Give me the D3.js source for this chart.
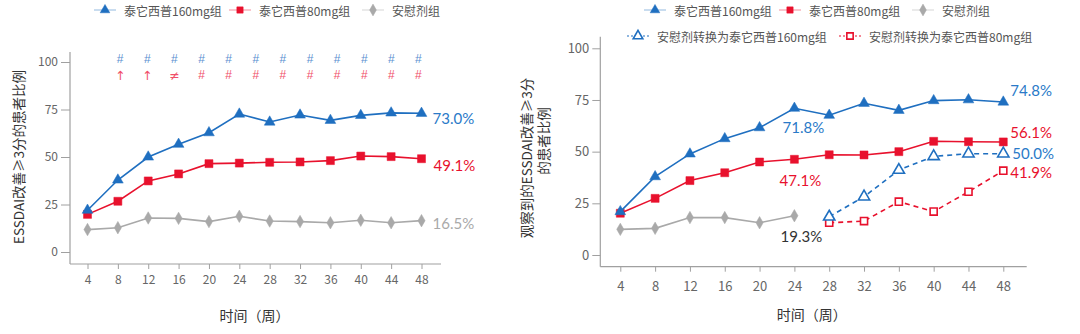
<!DOCTYPE html>
<html><head><meta charset="utf-8">
<script src="https://cdn.jsdelivr.net/npm/d3@7"></script>
<style>
html,body{margin:0;padding:0;background:#fff;}
svg{display:block;font-family:"Noto Sans CJK SC","Noto Sans",sans-serif;}
</style></head>
<body><svg id="c" width="1080" height="334"></svg>
<script>
// ---- data ----
const weeks = [4,8,12,16,20,24,28,32,36,40,44,48];
const weeksPlacebo = [4,8,12,16,20,24];
const weeksSwitch = [28,32,36,40,44,48];
const yTicks = [0,25,50,75,100];

// left chart (ESSDAI improvement >=3)
const left160 = [22.0,37.9,50.0,56.7,62.8,72.6,68.4,72.1,69.3,71.9,73.2,73.0];
const left80  = [19.8,26.7,37.4,41.1,46.5,46.8,47.2,47.4,48.1,50.5,50.2,49.1];
const leftPbo = [11.8,12.8,17.9,17.7,16.0,18.8,16.3,16.0,15.4,16.7,15.4,16.5];
const sig160 = ["#","#","#","#","#","#","#","#","#","#","#","#"];
const sig80  = ["↑","↑","≠","#","#","#","#","#","#","#","#","#"];

// right chart (observed)
const right160 = [21.0,37.9,48.9,56.3,61.6,71.0,67.6,73.4,70.0,74.7,75.1,74.0];
const right80  = [20.2,27.4,36.0,39.8,45.0,46.3,48.5,48.4,50.0,55.0,54.8,54.7];
const rightPbo = [12.4,12.9,18.1,18.1,15.6,19.0];
const switch160 = [18.5,28.2,41.1,47.7,49.0,49.0];
const switch80  = [15.6,16.4,25.8,21.0,30.6,40.8];

const names = ["泰它西普160mg组","泰它西普80mg组","安慰剂组","安慰剂转换为泰它西普160mg组","安慰剂转换为泰它西普80mg组"];

const BLUE="#1f6fc0", RED="#e8112d", GRAY="#a9a9a9";
const svg = d3.select("#c");

function marker(g, type, x, y, color, size, open){
  const sym = {tri:d3.symbolTriangle, sq:d3.symbolSquare, dia:d3.symbolDiamond}[type];
  g.append("path").attr("d", d3.symbol().type(sym).size(size)())
   .attr("transform",`translate(${x},${y})`)
   .attr("fill", open?"#fff":color).attr("stroke", color)
   .attr("stroke-width", open?1.6:0.5);
}

function series(g, xs, ys, xScale, yScale, color, type, size, dashed, open){
  const pts = xs.map((w,i)=>[xScale(w), yScale(ys[i])]);
  g.append("path").attr("d", d3.line()(pts)).attr("fill","none")
   .attr("stroke",color).attr("stroke-width",1.6)
   .attr("stroke-dasharray", dashed?"5,4":null);
  pts.forEach(p=>marker(g,type,p[0],p[1],color,size,open));
}

function axes(g, xScale, yScale, o){
  g.append("line").attr("x1",o.ax).attr("x2",o.ax).attr("y1",o.top).attr("y2",o.base)
   .attr("stroke","#a0a0a0").attr("stroke-width",1.2);
  g.append("line").attr("x1",o.ax).attr("x2",o.right).attr("y1",o.base).attr("y2",o.base)
   .attr("stroke","#a0a0a0").attr("stroke-width",1.2);
  const ya = g.append("g").attr("transform",`translate(${o.ax},0)`)
    .call(d3.axisLeft(yScale).tickValues(yTicks).tickSize(o.ytick).tickPadding(3));
  ya.select(".domain").remove();
  const xa = g.append("g").attr("transform",`translate(0,${o.base})`)
    .call(d3.axisBottom(xScale).tickValues(weeks).tickSize(5).tickPadding(o.xpad));
  xa.select(".domain").remove();
  [ya,xa].forEach(a=>{
    a.selectAll("line").attr("stroke","#a0a0a0");
    a.selectAll("text").attr("fill","#666").style("font-size",o.fs+"px")
      .style("font-family","'Noto Sans CJK SC',sans-serif");
  });
  g.append("text").attr("x",xScale(26)).attr("y",o.xtY).attr("text-anchor","middle")
   .attr("font-size",14).attr("fill","#333").text("时间（周）");
}

function legendItem(g, x, y, color, type, text, dashed, open){
  g.append("line").attr("x1",x-11).attr("x2",x+11).attr("y1",y).attr("y2",y)
   .attr("stroke",color).attr("stroke-width",dashed?1.2:0.8).attr("opacity",dashed?1:0.6)
   .attr("stroke-dasharray",dashed?"2,2":null);
  marker(g,type,x,y,color,40,open);
  g.append("text").attr("x",x+19).attr("y",y).attr("dominant-baseline","central")
   .attr("font-size",12).attr("fill","#555").text(text);
}

// ---------- LEFT ----------
const gL = svg.append("g");
const xL = d3.scaleLinear().domain([4,48]).range([87.5,421.5]);
const yL = d3.scaleLinear().domain([0,100]).range([252,62]);
axes(gL,xL,yL,{ax:70,top:52,base:264,right:441,ytick:9,xpad:6,fs:12,xtY:321});
gL.append("text").attr("transform","translate(18,157) rotate(-90)").attr("text-anchor","middle")
  .attr("dominant-baseline","central").attr("font-size",13.5).attr("fill","#333")
  .text("ESSDAI改善≥3分的患者比例");
series(gL,weeks,leftPbo,xL,yL,GRAY,"dia",45);
series(gL,weeks,left80,xL,yL,RED,"sq",64);
series(gL,weeks,left160,xL,yL,BLUE,"tri",50);

const sigX = d3.scalePoint().domain(d3.range(sig160.length)).range([xL(8.3),xL(47.6)]);
const sigRow = (arr,y,c)=>arr.forEach((s,i)=>gL.append("text").attr("x",sigX(i)).attr("y",y)
  .attr("text-anchor","middle").attr("dominant-baseline","central")
  .attr("font-family", s==="#" ? "'Liberation Sans',sans-serif" : "'DejaVu Sans',sans-serif")
  .attr("font-size", s==="#" ? 12 : 12.5).attr("fill",c).text(s));
sigRow(sig160,59,"#5a8fd0");
sigRow(sig80,75,"#f0506a");

const endLbl = (g,x,y,c,t,anchor)=>g.append("text").attr("x",x).attr("y",y).attr("text-anchor",anchor||"start")
  .attr("dominant-baseline","central").attr("font-family","Lato,'Noto Sans',sans-serif")
  .attr("font-size",15).attr("fill",c).text(t);
endLbl(gL,xL(48)+11,yL(73.0)+5,"#2a7ac8","73.0%");
endLbl(gL,xL(48)+12,yL(49.1)+6,RED,"49.1%");
endLbl(gL,xL(48)+11,yL(16.5)+2,GRAY,"16.5%");

legendItem(gL,105,10,BLUE,"tri",names[0]);
legendItem(gL,240,10,RED,"sq",names[1]);
legendItem(gL,373,10,GRAY,"dia",names[2]);

// ---------- RIGHT ----------
const gR = svg.append("g");
const xR = d3.scaleLinear().domain([4,48]).range([620.3,1003.3]);
const yR = d3.scaleLinear().domain([0,100]).range([255,48.3]);
axes(gR,xR,yR,{ax:600.3,top:36.7,base:266.7,right:1026.7,ytick:8,xpad:10,fs:13,xtY:320});
gR.append("text").attr("transform","translate(526,158) rotate(-90)").attr("text-anchor","middle")
  .attr("dominant-baseline","central").attr("font-size",13.5).attr("fill","#333")
  .text("观察到的ESSDAI改善≥3分");
gR.append("text").attr("transform","translate(543,141) rotate(-90)").attr("text-anchor","middle")
  .attr("dominant-baseline","central").attr("font-size",13.5).attr("fill","#333")
  .text("的患者比例");
series(gR,weeksPlacebo,rightPbo,xR,yR,GRAY,"dia",45);
series(gR,weeks,right80,xR,yR,RED,"sq",64);
series(gR,weeks,right160,xR,yR,BLUE,"tri",50);
series(gR,weeksSwitch,switch80,xR,yR,RED,"sq",50,true,true);
series(gR,weeksSwitch,switch160,xR,yR,BLUE,"tri",55,true,true);

endLbl(gR,xR(48)+7,yR(74.0)-12,"#2a7ac8","74.8%");
endLbl(gR,xR(48)+7,yR(54.7)-10,RED,"56.1%");
endLbl(gR,xR(48)+9,yR(49.0)-1,"#2a7ac8","50.0%");
endLbl(gR,xR(48)+7,yR(40.8)+1,RED,"41.9%");
endLbl(gR,xR(24)+9,yR(71.0)+19,"#2a7ac8","71.8%","middle");
endLbl(gR,xR(24)+6,yR(46.3)+21,RED,"47.1%","middle");
endLbl(gR,xR(24)+7,yR(19.0)+20,"#333","19.3%","middle");

legendItem(gR,655,10,BLUE,"tri",names[0]);
legendItem(gR,790,10,RED,"sq",names[1]);
legendItem(gR,923,10,GRAY,"dia",names[2]);
legendItem(gR,638,36,BLUE,"tri",names[3],true,true);
legendItem(gR,850,36,RED,"sq",names[4],true,true);
</script></body></html>
